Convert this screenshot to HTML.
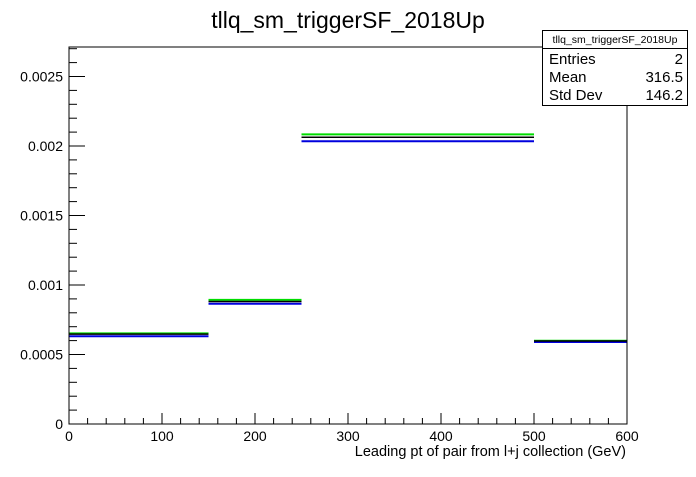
<!DOCTYPE html>
<html><head><meta charset="utf-8"><style>
body{margin:0;background:#fff;font-family:"Liberation Sans",sans-serif}
svg text{font-family:"Liberation Sans",sans-serif}
</style></head><body>
<svg width="696" height="472" viewBox="0 0 696 472">
<rect width="696" height="472" fill="#fff"/>
<text x="348" y="28" text-anchor="middle" font-size="23">tllq_sm_triggerSF_2018Up</text>
<g id="axes"></g>
<g id="marks"></g>
<rect x="69" y="47" width="558" height="377" fill="none" stroke="#000"/>
<g>
<rect x="542.5" y="30.5" width="145" height="75" fill="#fff" stroke="#000"/>
<line x1="542.5" y1="48.5" x2="687.5" y2="48.5" stroke="#000"/>
<text x="615" y="43" text-anchor="middle" font-size="10.5">tllq_sm_triggerSF_2018Up</text>
<text x="549" y="64" font-size="15">Entries</text><text x="683" y="64" font-size="15" text-anchor="end">2</text>
<text x="549" y="82" font-size="15">Mean</text><text x="683" y="82" font-size="15" text-anchor="end">316.5</text>
<text x="549" y="100" font-size="15">Std Dev</text><text x="683" y="100" font-size="15" text-anchor="end">146.2</text>
</g>
<text x="626" y="456" text-anchor="end" font-size="14.5">Leading pt of pair from l+j collection (GeV)</text>
</svg>
<script>
const binEdges=[0,150,250,500,600];
const greenVals=[0.000652,0.000893,0.002084,0.000599];
const blackVals=[0.000647,0.000881,0.002063,0.000597];
const blueVals=[0.000631,0.000865,0.002034,0.000590];
const xTicks=[0,100,200,300,400,500,600];
const yTicks=[0,0.0005,0.001,0.0015,0.002,0.0025];
const yTickLabels=["0","0.0005","0.001","0.0015","0.002","0.0025"];
const NS="http://www.w3.org/2000/svg";
const X=v=>69+v/600*558;
const Y=v=>424-v/0.001*139;
function mk(t,a,p){const e=document.createElementNS(NS,t);for(const k in a)e.setAttribute(k,a[k]);p.appendChild(e);return e;}
const axes=document.getElementById('axes'),marks=document.getElementById('marks');
for(let v=0;v<=600;v+=20){const maj=v%100===0;const l=mk('line',{x1:X(v),x2:X(v),y1:424,y2:maj?413:418,stroke:'#000'},axes);

}
xTicks.forEach(v=>{const t=mk('text',{x:X(v),y:441,'text-anchor':'middle','font-size':14},axes);t.textContent=v;

});
for(let i=0;i<=27;i++){const v=i*0.0001;const maj=i%5===0;const l=mk('line',{x1:69,x2:maj?85:77,y1:Y(v),y2:Y(v),stroke:'#000'},axes);

}
yTicks.forEach((v,i)=>{const t=mk('text',{x:63,y:Y(v)+5,'text-anchor':'end','font-size':14},axes);t.textContent=yTickLabels[i];

});
[[greenVals,'#00dd00',2,'green-series'],[blueVals,'#0000dd',2,'blue-series'],[blackVals,'#000',1.5,'black-series']].forEach(([vals,c,w,n])=>{
vals.forEach((v,i)=>{const l=mk('line',{x1:X(binEdges[i]),x2:X(binEdges[i+1]),y1:Y(v),y2:Y(v),stroke:c,'stroke-width':w},marks);

});});
</script>
</body></html>
